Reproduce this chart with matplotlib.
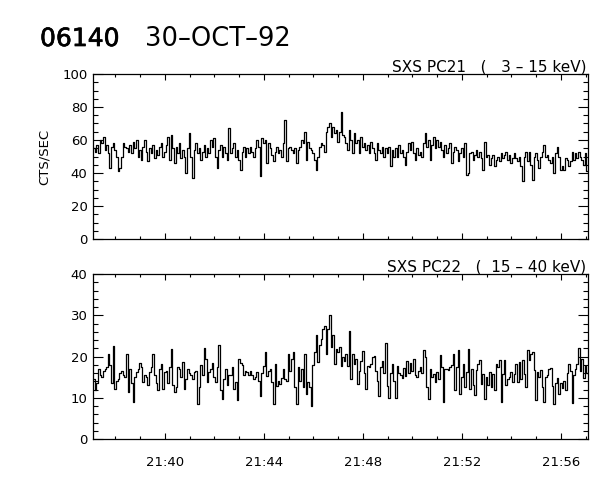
import numpy as np
import matplotlib
matplotlib.use("Agg")
import matplotlib.pyplot as plt
import matplotlib.patheffects as pe
from matplotlib.ticker import FixedLocator, MultipleLocator

# ---------------- data ----------------
# time axis: minutes after 21:00, 4-s bins
t_start = 37.1
bin_min = 4.0 / 60.0

pc21 = [
    55, 53, 57, 52, 60, 58, 62, 54, 57, 52, 43, 56, 58, 54, 50, 41, 43, 50, 58, 56, 55, 53, 57, 52, 59,
    55, 60, 50, 54, 48, 56, 60, 53, 47, 55, 52, 57, 49, 54, 51, 56, 58, 50, 53, 57, 62, 48, 63, 55, 46,
    56, 52, 58, 49, 54, 50, 40, 55, 64, 50, 37, 54, 58, 52, 55, 48, 53, 57, 50, 55, 52, 60, 56, 61, 50,
    43, 54, 57, 50, 56, 52, 48, 67, 52, 55, 58, 50, 54, 48, 42, 53, 56, 50, 55, 52, 56, 53, 50, 55, 60,
    56, 38, 61, 58, 60, 46, 58, 55, 51, 47, 53, 56, 52, 54, 50, 58, 72, 47, 55, 56, 54, 52, 55, 46, 54,
    56, 60, 58, 65, 48, 59, 55, 54, 52, 48, 42, 50, 56, 58, 57, 53, 65, 68, 70, 62, 68, 64, 66, 59, 65,
    77, 63, 62, 58, 54, 66, 60, 52, 64, 58, 60, 52, 62, 56, 58, 54, 57, 52, 59, 55, 52, 48, 58, 54, 52,
    56, 50, 55, 52, 56, 44, 54, 50, 55, 50, 57, 52, 54, 50, 45, 53, 58, 54, 59, 52, 48, 55, 51, 53, 50,
    58, 64, 56, 60, 48, 57, 62, 55, 60, 56, 59, 54, 50, 57, 52, 55, 58, 46, 53, 56, 54, 47, 52, 55, 50,
    58, 39, 40, 52, 53, 48, 51, 54, 50, 53, 49, 42, 59, 50, 51, 45, 49, 51, 44, 48, 50, 47, 52, 49, 51,
    53, 48, 51, 46, 49, 52, 49, 47, 50, 44, 35, 50, 53, 47, 53, 45, 36, 50, 52, 48, 43, 50, 53, 57, 50,
    51, 48, 46, 50, 40, 52, 56, 50, 42, 44, 42, 49, 48, 44, 47, 53, 48, 52, 49, 53, 50, 48, 45, 52, 41,
]

pc22 = [
    14.5, 12.0, 13.5, 17.0, 15.5, 15.0, 16.5, 17.0, 17.5, 20.5, 17.9, 13.5, 22.5, 12.2, 14.0, 14.5, 16.0, 16.5, 15.5, 15.0, 20.5, 11.5, 17.0, 13.5, 9.0,
    15.0, 16.2, 17.0, 18.5, 17.5, 13.8, 15.5, 15.0, 13.0, 16.2, 17.5, 20.5, 15.4, 13.5, 11.8, 17.0, 18.3, 12.2, 16.2, 16.5, 13.5, 17.5, 21.9, 13.0, 11.5,
    12.5, 17.5, 17.0, 15.0, 18.7, 12.2, 14.5, 17.0, 16.0, 15.4, 14.5, 16.2, 16.5, 8.6, 12.5, 17.9, 15.5, 22.1, 19.5, 13.8, 16.2, 17.0, 18.5, 15.0, 13.8,
    17.5, 22.7, 11.8, 9.8, 14.5, 17.0, 13.0, 15.5, 15.4, 17.5, 12.2, 13.8, 9.4, 19.5, 18.5, 17.9, 15.5, 16.5, 16.2, 15.5, 16.5, 15.4, 14.5, 15.0, 16.2,
    14.1, 10.5, 16.1, 17.7, 21.0, 15.3, 16.5, 16.9, 13.7, 8.5, 18.2, 12.9, 14.1, 13.3, 14.9, 16.9, 14.5, 14.1, 20.6, 16.5, 19.4, 21.0, 12.5, 8.5, 17.4,
    14.1, 16.9, 12.5, 20.6, 10.9, 13.7, 12.5, 8.1, 17.9, 21.1, 25.1, 18.7, 22.7, 24.3, 26.7, 27.5, 20.7, 26.7, 30.0, 22.3, 25.1, 18.2, 21.9, 21.1, 22.3,
    17.7, 19.8, 19.0, 20.6, 17.7, 26.2, 14.5, 20.6, 18.2, 19.4, 13.3, 16.5, 19.0, 21.4, 16.1, 12.1, 17.7, 17.4, 18.2, 19.8, 20.2, 16.5, 14.1, 10.5, 17.4,
    18.9, 16.0, 23.3, 12.8, 10.0, 16.0, 18.1, 14.0, 10.0, 17.7, 16.0, 15.6, 14.8, 17.2, 15.2, 18.9, 16.0, 18.5, 16.4, 19.3, 15.6, 15.0, 16.5, 17.5, 16.0,
    21.5, 19.9, 12.6, 9.8, 17.0, 15.0, 15.8, 13.8, 16.2, 14.6, 20.3, 17.5, 9.0, 17.0, 17.0, 16.7, 17.5, 17.9, 20.7, 11.8, 17.5, 21.5, 11.0, 15.0, 18.3,
    12.6, 16.2, 21.9, 12.2, 17.0, 13.0, 10.6, 16.7, 18.3, 19.1, 13.4, 15.8, 9.8, 15.0, 13.0, 16.2, 12.6, 15.8, 11.8, 18.3, 17.5, 19.1, 9.0, 15.8, 19.1,
    13.0, 14.6, 15.0, 16.2, 13.8, 15.8, 18.3, 13.8, 18.7, 14.6, 19.1, 15.8, 12.6, 21.5, 19.1, 20.7, 21.1, 16.7, 9.4, 16.2, 15.0, 16.7, 12.6, 9.0, 15.0,
    15.6, 16.9, 17.2, 12.8, 8.4, 13.6, 14.8, 10.8, 13.6, 12.4, 14.0, 12.0, 16.0, 18.1, 16.4, 8.8, 15.6, 16.9, 18.1, 22.1, 16.4, 19.3, 14.8, 17.7, 16.0,
]

xtick_pos = [40, 44, 48, 52, 56]
xtick_labels = ["21:40", "21:44", "21:48", "21:52", "21:56"]
x_range = (37.1, 57.1)

top_title = "SXS PC21   (   3 \u2013 15 keV)"
bot_title = "SXS PC22   (  15 \u2013 40 keV)"

# ---------------- figure ----------------
plt.rcParams['font.family'] = ['DejaVu Sans']
fig = plt.figure(figsize=(6.0, 4.8), dpi=100)

W, H = 600.0, 480.0
def ax_rect(l, t, r, b):
    return [l / W, 1 - b / H, (r - l) / W, (b - t) / H]

ax1 = fig.add_axes(ax_rect(93, 74, 588, 239))
ax2 = fig.add_axes(ax_rect(93, 274, 588, 439))

def times(n):
    return t_start + bin_min * (np.arange(n) + 0.5)

ax1.plot(times(len(pc21)), pc21, color='black', lw=0.9, drawstyle='steps-mid')
ax2.plot(times(len(pc22)), pc22, color='black', lw=0.9, drawstyle='steps-mid')

for ax, ymax, ymaj, ymin in [(ax1, 100, 20, 5), (ax2, 40, 10, 2)]:
    ax.set_xlim(*x_range)
    ax.set_ylim(0, ymax)
    ax.xaxis.set_major_locator(FixedLocator(xtick_pos))
    ax.xaxis.set_minor_locator(MultipleLocator(1))
    ax.yaxis.set_major_locator(MultipleLocator(ymaj))
    ax.yaxis.set_minor_locator(MultipleLocator(ymin))
    ax.tick_params(axis='both', which='both', direction='in',
                   top=True, right=True, width=0.8, labelsize=9.5, colors='black')
    ax.tick_params(axis='x', which='major', length=4.5)
    ax.tick_params(axis='x', which='minor', length=2.5)
    ax.tick_params(axis='y', which='major', length=7.5, pad=4)
    ax.tick_params(axis='y', which='minor', length=3.8)
    for s in ax.spines.values():
        s.set_linewidth(0.9)

ax1.set_xticklabels([])
ax2.set_xticklabels(xtick_labels)
ax2.tick_params(axis='x', which='major', pad=12)

ax1.set_ylabel("CTS/SEC", fontsize=9.5, labelpad=8)

right_px = 586
ax1.text(right_px / W, 1 - 72 / H, top_title, transform=fig.transFigure,
         ha='right', va='baseline', fontsize=11)
ax2.text(right_px / W, 1 - 272 / H, bot_title, transform=fig.transFigure,
         ha='right', va='baseline', fontsize=11)

fig.text(40 / W, 1 - 46 / H, "06140", fontsize=18, ha='left', va='baseline',
         path_effects=[pe.withStroke(linewidth=0.5, foreground='black')])
fig.text(145 / W, 1 - 46 / H, "30\u2013OCT\u201392", fontsize=18.5, ha='left', va='baseline')

fig.savefig("out.png", dpi=100, facecolor='white')
